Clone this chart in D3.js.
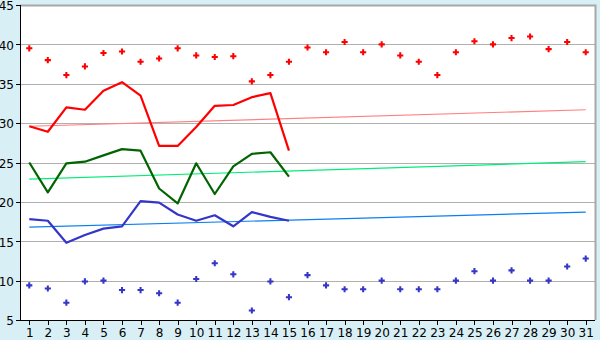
<!DOCTYPE html>
<html lang="en">
<head>
    <meta charset="UTF-8">
    <title>Daily values</title>
    <script src="https://d3js.org/d3.v7.min.js"></script>
    <style>
        body { margin: 0; background: #d9eff6; }
        svg { display: block; }
        .axis text { font-family: "DejaVu Sans", Verdana, sans-serif; font-size: 12px; fill: #000; }
        .axis path, .axis line { stroke: #000; shape-rendering: crispEdges; }
        .grid line { stroke: #b0b0b0; shape-rendering: crispEdges; }
    </style>
</head>
<body>
    <svg id="chart" width="600" height="340"></svg>

    <script>
        const days = d3.range(1, 32);
        const yTicks = [5, 10, 15, 20, 25, 30, 35, 40, 45];

        // scatter points (all 31 days)
        const redPoints = [39.5, 38.0, 36.1, 37.2, 38.9, 39.1, 37.8, 38.2, 39.5, 38.6, 38.4, 38.5, 35.3, 36.1, 37.8,
            39.6, 39.0, 40.3, 39.0, 40.0, 38.6, 37.8, 36.1, 39.0, 40.4, 40.0, 40.8, 41.0, 39.4, 40.3, 39.0];
        const bluePoints = [9.4, 9.0, 7.2, 9.9, 10.0, 8.8, 8.8, 8.4, 7.2, 10.2, 12.2, 10.8, 6.2, 9.9, 7.9,
            10.7, 9.4, 8.9, 8.9, 10.0, 8.9, 8.9, 8.9, 10.0, 11.2, 10.0, 11.3, 10.0, 10.0, 11.8, 12.8];

        // lines (first 15 days)
        const redLine = [29.6, 28.9, 32.0, 31.7, 34.1, 35.2, 33.5, 27.1, 27.1, 29.5, 32.2, 32.3, 33.3, 33.8, 26.5];
        const greenLine = [25.0, 21.2, 24.9, 25.1, 25.9, 26.7, 26.5, 21.7, 19.8, 24.9, 21.0, 24.5, 26.1, 26.3, 23.2];
        const blueLine = [17.8, 17.6, 14.8, 15.8, 16.6, 16.9, 20.1, 19.9, 18.4, 17.6, 18.3, 16.9, 18.7, 18.1, 17.6];

        // trend lines, value at day 1 and day 31
        const redTrend = [29.6, 31.7];
        const greenTrend = [22.9, 25.1];
        const blueTrend = [16.8, 18.7];

        const svg = d3.select("#chart");
        const mLeft = 20, mRight = 595, mTop = 5, mBottom = 320;

        const x = d3.scalePoint().domain(days).range([mLeft, mRight]).padding(0.5);
        const y = d3.scaleLinear().domain([5, 45]).range([mBottom, mTop]);

        svg.append("rect").attr("x", mLeft).attr("y", mTop)
            .attr("width", mRight - mLeft).attr("height", mBottom - mTop).attr("fill", "#fff");

        svg.append("g").attr("class", "grid")
            .selectAll("line").data(yTicks.slice(1)).enter().append("line")
            .attr("x1", mLeft).attr("x2", mRight)
            .attr("y1", d => Math.round(y(d)) + 0.5).attr("y2", d => Math.round(y(d)) + 0.5);

        // plot border top/right
        svg.append("path")
            .attr("d", `M${mLeft},${mTop + 0.5}H${mRight + 0.5}V${mBottom}`)
            .attr("fill", "none").attr("stroke", "#a8a8a8").attr("stroke-width", 2);

        // trend lines
        [[redTrend, "#ff8080"], [greenTrend, "#00ee77"], [blueTrend, "#0a7ff0"]].forEach(([t, c]) => {
            svg.append("line")
                .attr("x1", x(1)).attr("y1", y(t[0]))
                .attr("x2", x(31)).attr("y2", y(t[1]))
                .attr("stroke", c).attr("stroke-width", 1.2);
        });

        const line = d3.line().x((d, i) => x(days[i])).y(d => y(d));
        [[redLine, "#ff0000"], [greenLine, "#006400"], [blueLine, "#3535c8"]].forEach(([s, c]) => {
            svg.append("path").datum(s).attr("d", line)
                .attr("fill", "none").attr("stroke", c).attr("stroke-width", 2.2)
                .attr("stroke-linejoin", "round");
        });

        const cross = d3.symbol().type(d3.symbolCross).size(21);
        [[redPoints, "#ff0000"], [bluePoints, "#3535c8"]].forEach(([s, c]) => {
            svg.append("g").selectAll("path").data(s).enter().append("path")
                .attr("d", cross)
                .attr("transform", (d, i) => `translate(${x(days[i])},${y(d)})`)
                .attr("fill", c);
        });

        svg.append("g").attr("class", "axis")
            .attr("transform", `translate(${mLeft},0)`)
            .call(d3.axisLeft(y).tickValues(yTicks).tickSize(4).tickPadding(2))
            .call(g => g.select(".domain").attr("d", `M0.5,${mTop}V${mBottom + 0.5}`))
            .call(g => g.selectAll(".tick text").attr("y", 1));

        svg.append("g").attr("class", "axis")
            .attr("transform", `translate(0,${mBottom})`)
            .call(d3.axisBottom(x).tickSize(5).tickPadding(3))
            .call(g => g.select(".domain").attr("d", `M${mLeft},0.5H${mRight}`));
    </script>
</body>
</html>
